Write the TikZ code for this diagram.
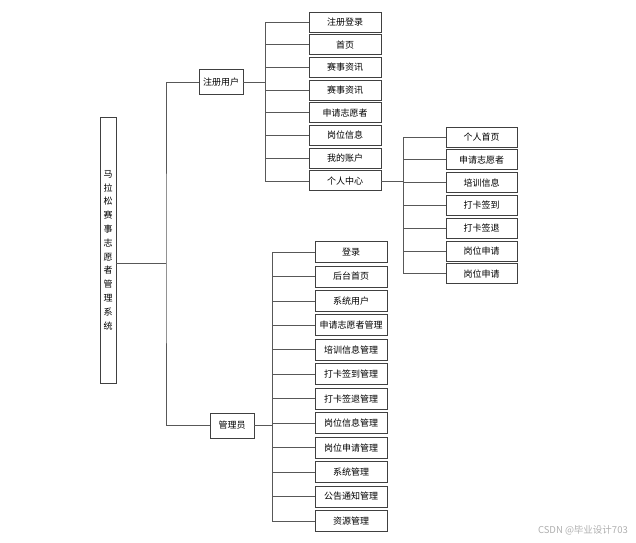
\documentclass[tikz,border=0pt]{standalone}
\usepackage{fontspec}
\setmainfont{Noto Sans CJK SC}
\usetikzlibrary{positioning}
\definecolor{boxLine}{RGB}{64,64,64}
\definecolor{treeGray}{RGB}{88,88,88}
\definecolor{markGray}{RGB}{175,175,175}
\tikzset{
  sysNode/.style={
    draw=boxLine,
    line width=0.9pt,
    fill=white,
    align=center,
    inner sep=0pt,
    outer sep=0pt,
    font=\fontsize{9}{13.8}\selectfont
  },
  rootNode/.style={sysNode, minimum width=16pt, minimum height=266pt},
  roleNode/.style={sysNode, minimum width=44pt, minimum height=25pt},
  userNode/.style={sysNode, minimum width=72pt, minimum height=20pt},
  centerNode/.style={sysNode, minimum width=71pt, minimum height=20pt},
  adminNode/.style={sysNode, minimum width=72pt, minimum height=21pt},
  treeLine/.style={draw=treeGray, line width=0.75pt}
}

\begin{document}
\begin{tikzpicture}[x=1pt, y=-1pt]
  \useasboundingbox (0,0) rectangle (636,542);

  % root and the two roles
  \node[rootNode] (root) at (108,250) {马\\拉\\松\\赛\\事\\志\\愿\\者\\管\\理\\系\\统};
  \node[roleNode] (user) at (221,82) {注册用户};
  \node[roleNode] (admin) at (232,425.5) {管理员};

  % registered user
  \node[userNode] (u1) at (345,22) {注册登录};
  \node[userNode, below=2.7pt of u1] (u2) {首页};
  \node[userNode, below=2.7pt of u2] (u3) {赛事资讯};
  \node[userNode, below=2.7pt of u3] (u4) {赛事资讯};
  \node[userNode, below=2.7pt of u4] (u5) {申请志愿者};
  \node[userNode, below=2.7pt of u5] (u6) {岗位信息};
  \node[userNode, below=2.7pt of u6] (u7) {我的账户};
  \node[userNode, below=2.7pt of u7] (u8) {个人中心};

  % personal center
  \node[centerNode] (c1) at (481.5,137) {个人首页};
  \node[centerNode, below=2.8pt of c1] (c2) {申请志愿者};
  \node[centerNode, below=2.8pt of c2] (c3) {培训信息};
  \node[centerNode, below=2.8pt of c3] (c4) {打卡签到};
  \node[centerNode, below=2.8pt of c4] (c5) {打卡签退};
  \node[centerNode, below=2.8pt of c5] (c6) {岗位申请};
  \node[centerNode, below=2.8pt of c6] (c7) {岗位申请};

  % administrator
  \node[adminNode] (a1) at (351,252) {登录};
  \node[adminNode, below=3.45pt of a1] (a2) {后台首页};
  \node[adminNode, below=3.45pt of a2] (a3) {系统用户};
  \node[adminNode, below=3.45pt of a3] (a4) {申请志愿者管理};
  \node[adminNode, below=3.45pt of a4] (a5) {培训信息管理};
  \node[adminNode, below=3.45pt of a5] (a6) {打卡签到管理};
  \node[adminNode, below=3.45pt of a6] (a7) {打卡签退管理};
  \node[adminNode, below=3.45pt of a7] (a8) {岗位信息管理};
  \node[adminNode, below=3.45pt of a8] (a9) {岗位申请管理};
  \node[adminNode, below=3.45pt of a9] (a10) {系统管理};
  \node[adminNode, below=3.45pt of a10] (a11) {公告通知管理};
  \node[adminNode, below=3.45pt of a11] (a12) {资源管理};

  \coordinate (rootJoint) at (166,263);
  \coordinate (userJoint) at (265,82);
  \coordinate (adminJoint) at (272,425.5);

  \draw[treeLine] (root.east |- rootJoint) -- (rootJoint);
  \draw[treeLine] (user.west) -| (rootJoint) |- (admin.west);

  \draw[treeLine] (user.east) -- (userJoint);
  \draw[treeLine] (userJoint) |- (u1.west) (userJoint) |- (u2.west)
    (userJoint) |- (u3.west) (userJoint) |- (u4.west)
    (userJoint) |- (u5.west) (userJoint) |- (u6.west)
    (userJoint) |- (u7.west) (userJoint) |- (u8.west);

  \draw[treeLine] (u8.east) -- ++(22,0) coordinate (centerJoint);
  \draw[treeLine] (centerJoint) |- (c1.west) (centerJoint) |- (c2.west)
    (centerJoint) |- (c3.west) (centerJoint) |- (c4.west)
    (centerJoint) |- (c5.west) (centerJoint) |- (c6.west)
    (centerJoint) |- (c7.west);

  \draw[treeLine] (admin.east) -- (adminJoint);
  \draw[treeLine] (adminJoint) |- (a1.west) (adminJoint) |- (a2.west)
    (adminJoint) |- (a3.west) (adminJoint) |- (a4.west)
    (adminJoint) |- (a5.west) (adminJoint) |- (a6.west)
    (adminJoint) |- (a7.west) (adminJoint) |- (a8.west)
    (adminJoint) |- (a9.west) (adminJoint) |- (a10.west)
    (adminJoint) |- (a11.west) (adminJoint) |- (a12.west);

  \node[anchor=east, text=markGray, inner sep=0pt, font=\fontsize{9.5}{11}\selectfont] (mark) at (628,530) {CSDN @毕业设计703};
\end{tikzpicture}
\end{document}
